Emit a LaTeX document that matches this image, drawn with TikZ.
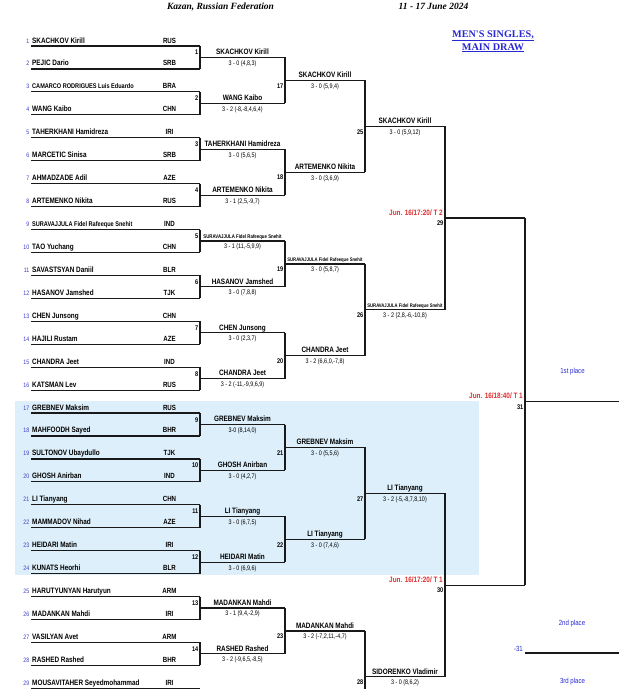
\documentclass[tikz,border=0pt]{standalone}
\usepackage{fontspec}
\setmainfont{Liberation Sans}
\newfontfamily\narrow[FakeStretch=0.82]{Liberation Sans}
\newfontfamily\headfont{Liberation Serif}
\usetikzlibrary{calc}

\definecolor{seedblue}{RGB}{60,60,200}
\definecolor{slotred}{RGB}{225,45,45}
\definecolor{poolblue}{RGB}{221,239,250}
\definecolor{titleblue}{RGB}{40,40,210}

\def\T{46}     % line under player 1
\def\D{22.94}  % row pitch

\tikzset{
  bracket/.style={line width=1.15pt, black!90},
  seed/.style={anchor=base east, inner sep=0pt, text=seedblue, font=\narrow\fontsize{6.4}{7}\selectfont},
  player/.style={anchor=base west, inner sep=0pt},
  nation/.style={anchor=base, inner sep=0pt, font=\narrow\bfseries\fontsize{7.5}{8}\selectfont},
  winner/.style={anchor=base, inner sep=0pt},
  score/.style={anchor=base, inner sep=0pt, font=\narrow\fontsize{6.6}{7}\selectfont},
  matchno/.style={anchor=base east, inner sep=0pt, font=\narrow\bfseries\fontsize{6.8}{7}\selectfont},
  slot/.style={anchor=base east, inner sep=0pt, text=slotred, font=\narrow\bfseries\fontsize{7.8}{8}\selectfont},
  placelabel/.style={inner sep=0pt, text=titleblue, font=\narrow\fontsize{7.4}{8}\selectfont},
  head/.style={anchor=base, inner sep=0pt, font=\headfont\bfseries\itshape\fontsize{9.5}{11}\selectfont},
  drawname/.style={anchor=base, inner sep=0pt, text=titleblue, font=\headfont\bfseries\fontsize{10.2}{12}\selectfont},
}

\begin{document}
\begin{tikzpicture}[x=1pt, y=-1pt]
  \useasboundingbox (0,0) rectangle (640,689);
  \clip (0,0) rectangle (640,689);
  \fill[poolblue] (15,401) rectangle (479,575);

  % heading
  \node[head] (venue) at (220.5,9) {Kazan, Russian Federation};
  \node[head] (week) at (433.5,9) {11 - 17 June 2024};
  \node[drawname] (event) at (493,37.7) {\underline{MEN\textquotesingle S SINGLES,}};
  \node[drawname] (stage) at (493,50) {\underline{MAIN DRAW}};

  % draw sheet
  \foreach \i/\who/\nat/\sz in {
    1/SKACHKOV Kirill/RUS/7.8, 2/PEJIC Dario/SRB/7.8,
    3/CAMARCO RODRIGUES Luis Eduardo/BRA/6.8, 4/WANG Kaibo/CHN/7.8,
    5/TAHERKHANI Hamidreza/IRI/7.8, 6/MARCETIC Sinisa/SRB/7.8,
    7/AHMADZADE Adil/AZE/7.8, 8/ARTEMENKO Nikita/RUS/7.8,
    9/SURAVAJJULA Fidel Rafeeque Snehit/IND/6.8, 10/TAO Yuchang/CHN/7.8,
    11/SAVASTSYAN Daniil/BLR/7.8, 12/HASANOV Jamshed/TJK/7.8,
    13/CHEN Junsong/CHN/7.8, 14/HAJILI Rustam/AZE/7.8,
    15/CHANDRA Jeet/IND/7.8, 16/KATSMAN Lev/RUS/7.8,
    17/GREBNEV Maksim/RUS/7.8, 18/MAHFOODH Sayed/BHR/7.8,
    19/SULTONOV Ubaydullo/TJK/7.8, 20/GHOSH Anirban/IND/7.8,
    21/LI Tianyang/CHN/7.8, 22/MAMMADOV Nihad/AZE/7.8,
    23/HEIDARI Matin/IRI/7.8, 24/KUNATS Heorhi/BLR/7.8,
    25/HARUTYUNYAN Harutyun/ARM/7.8, 26/MADANKAN Mahdi/IRI/7.8,
    27/VASILYAN Avet/ARM/7.8, 28/RASHED Rashed/BHR/7.8,
    29/MOUSAVITAHER Seyedmohammad/IRI/7.8}{
    \pgfmathsetmacro\py{\T+(\i-1)*\D}
    \coordinate (pl\i) at (31,\py);
    \coordinate (p\i) at (200,\py);
    \draw[bracket] (pl\i) -- (p\i);
    \node[seed] (s\i) at ([xshift=-1.5pt,yshift=3pt]pl\i) {\i};
    \node[player, font=\narrow\bfseries\fontsize{\sz}{\sz}\selectfont] (n\i) at ([xshift=1pt,yshift=3pt]pl\i) {\who};
    \node[nation] (c\i) at ([xshift=138.5pt,yshift=3pt]pl\i) {\nat};
  }

  % second round slot below the page
  \coordinate (e24) at (365,{\T+29.5*\D});

  \foreach \m/\a/\b/\len/\who/\res/\sz in {
    1/p1/p2/85/SKACHKOV Kirill/{3 - 0 (4,8,3)}/7.8,
    2/p3/p4/85/WANG Kaibo/{3 - 2 (-8,-8,4,6,4)}/7.8,
    3/p5/p6/85/TAHERKHANI Hamidreza/{3 - 0 (5,6,5)}/7.8,
    4/p7/p8/85/ARTEMENKO Nikita/{3 - 1 (2,5,-9,7)}/7.8,
    5/p9/p10/85/SURAVAJJULA Fidel Rafeeque Snehit/{3 - 1 (11,-5,9,9)}/5.3,
    6/p11/p12/85/HASANOV Jamshed/{3 - 0 (7,8,8)}/7.8,
    7/p13/p14/85/CHEN Junsong/{3 - 0 (2,3,7)}/7.8,
    8/p15/p16/85/CHANDRA Jeet/{3 - 2 (-11,-9,9,6,9)}/7.8,
    9/p17/p18/85/GREBNEV Maksim/{3-0 (8,14,0)}/7.8,
    10/p19/p20/85/GHOSH Anirban/{3 - 0 (4,2,7)}/7.8,
    11/p21/p22/85/LI Tianyang/{3 - 0 (6,7,5)}/7.8,
    12/p23/p24/85/HEIDARI Matin/{3 - 0 (6,9,6)}/7.8,
    13/p25/p26/85/MADANKAN Mahdi/{3 - 1 (9,4,-2,9)}/7.8,
    14/p27/p28/85/RASHED Rashed/{3 - 2 (-9,6,5,-8,5)}/7.8,
    17/e1/e2/80/SKACHKOV Kirill/{3 - 0 (5,9,4)}/7.8,
    18/e3/e4/80/ARTEMENKO Nikita/{3 - 0 (3,6,9)}/7.8,
    19/e5/e6/80/SURAVAJJULA Fidel Rafeeque Snehit/{3 - 0 (5,8,7)}/5.1,
    20/e7/e8/80/CHANDRA Jeet/{3 - 2 (6,6,0,-7,8)}/7.8,
    21/e9/e10/80/GREBNEV Maksim/{3 - 0 (5,5,6)}/7.8,
    22/e11/e12/80/LI Tianyang/{3 - 0 (7,4,6)}/7.8,
    23/e13/e14/80/MADANKAN Mahdi/{3 - 2 (-7,2,11,-4,7)}/7.8,
    25/e17/e18/80/SKACHKOV Kirill/{3 - 0 (5,9,12)}/7.8,
    26/e19/e20/80/SURAVAJJULA Fidel Rafeeque Snehit/{3 - 2 (2,8,-6,-10,8)}/5.1,
    27/e21/e22/80/LI Tianyang/{3 - 2 (-5,-8,7,8,10)}/7.8,
    28/e23/e24/80/SIDORENKO Vladimir/{3 - 0 (8,6,2)}/7.8,
    29/e25/e26/80/{}/{}/7.8,
    30/e27/e28/80/{}/{}/7.8,
    31/e29/e30/94/{}/{}/7.8}{
    \coordinate (m\m) at ($(\a)!.5!(\b)$);
    \coordinate (e\m) at ($(m\m)+(\len,0)$);
    \coordinate (h\m) at ($(m\m)!.5!(e\m)$);
    \draw[bracket] (\a) -- (\b);
    \draw[bracket] (m\m) -- (e\m);
    \ifnum\m<15
      \node[matchno] (k\m) at ([xshift=-1.5pt,yshift=2.5pt]m\m) {\m};
    \else
      \node[matchno] (k\m) at ([xshift=-1.5pt,yshift=-7.8pt]m\m) {\m};
    \fi
    \ifx\who\empty\else
      \node[winner, font=\narrow\bfseries\fontsize{\sz}{\sz}\selectfont] (w\m) at ([yshift=2.7pt]h\m) {\who};
      \node[score] (r\m) at ([yshift=-7.9pt]h\m) {\res};
    \fi
  }

  % times and tables
  \node[slot] (t29) at ([xshift=-2pt,yshift=2.8pt]m29) {Jun. 16/17:20/ T 2};
  \node[slot] (t30) at ([xshift=-2pt,yshift=2.8pt]m30) {Jun. 16/17:20/ T 1};
  \node[slot] (t31) at ([xshift=-2pt,yshift=2.8pt]m31) {Jun. 16/18:40/ T 1};

  % places
  \node[placelabel] (first) at (572.5,372) {1st place};
  \node[placelabel] (second) at (572,624) {2nd place};
  \node[placelabel] (third) at (572.5,682) {3rd place};
  \coordinate (bronze) at (525,653);
  \coordinate (bronze end) at (619,653);
  \draw[bracket] (bronze) -- (bronze end);
  \node[placelabel, anchor=base east] (loser) at ([xshift=-2pt,yshift=2pt]bronze) {-31};
\end{tikzpicture}
\end{document}
